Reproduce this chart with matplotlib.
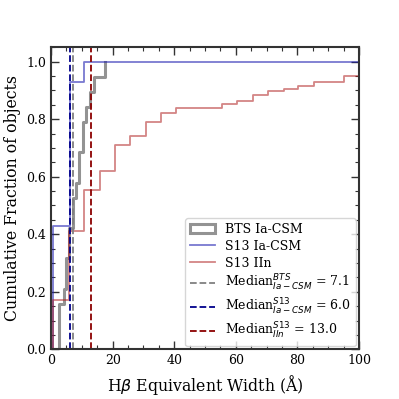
import matplotlib
matplotlib.use("Agg")
import matplotlib.pyplot as plt
from matplotlib.patches import Patch
from matplotlib.lines import Line2D
from matplotlib.ticker import MultipleLocator

plt.rcParams['font.family'] = 'DejaVu Serif'
plt.rcParams['mathtext.fontset'] = 'dejavusans'

# BTS Ia-CSM cumulative step (x edges, cumulative fraction)
bts_x = [0, 2.7, 4.3, 5.0, 5.7, 7.1, 8.2, 9.0, 10.4, 11.3, 12.5, 14.0, 17.4]
bts_y = [0.0, 3/19, 4/19, 6/19, 8/19, 10/19, 11/19, 13/19, 15/19, 16/19, 17/19, 18/19, 1.0]

# S13 Ia-CSM
s13ia_x = [0.5, 6.0, 10.8, 100]
s13ia_y = [0.43, 0.93, 1.0, 0.997]

# S13 IIn
s13iin_x = [0.5, 5.7, 10.8, 15.8, 20.6, 25.5, 30.9, 35.8, 40.5, 55.5, 60.5, 65.5,
            70.4, 75.5, 80.3, 85.4, 95.1, 100]
s13iin_y = [0.17, 0.41, 0.555, 0.62, 0.709, 0.742, 0.789, 0.821, 0.839, 0.853, 0.862,
            0.883, 0.897, 0.906, 0.916, 0.928, 0.951, 0.951]

medians = {'bts': 7.1, 's13ia': 6.0, 's13iin': 13.0}

fig = plt.figure(figsize=(3.99, 3.99), dpi=100)
ax = fig.add_axes([0.128, 0.1246, 0.772, 0.757])

ax.step([0] + bts_x, [0] + bts_y, where='post', color='gray', lw=2.2, alpha=0.85)
ax.step([0] + s13ia_x, [0] + s13ia_y, where='post', color='#2020b0', lw=1.3, alpha=0.6)
ax.step([0] + s13iin_x, [0] + s13iin_y, where='post', color='#b02020', lw=1.3, alpha=0.55)

ax.axvline(medians['bts'], color='gray', ls='--', lw=1.3)
ax.axvline(medians['s13ia'], color='darkblue', ls='--', lw=1.3)
ax.axvline(medians['s13iin'], color='darkred', ls='--', lw=1.3)

ax.set_xlim(0, 100)
ax.set_ylim(0, 1.05)
ax.xaxis.set_major_locator(MultipleLocator(20))
ax.xaxis.set_minor_locator(MultipleLocator(5))
ax.yaxis.set_major_locator(MultipleLocator(0.2))
ax.yaxis.set_minor_locator(MultipleLocator(0.05))
ax.tick_params(which='both', direction='in', top=True, right=True, labelsize=9, colors='#333333', labelcolor='black')
ax.tick_params(which='major', length=6, width=1)
ax.tick_params(which='minor', length=3, width=0.8)
for s in ax.spines.values():
    s.set_linewidth(1.5)
    s.set_color('#333333')

ax.set_xlabel(r'H$\beta$ Equivalent Width (Å)', fontsize=11.3)
ax.set_ylabel('Cumulative Fraction of objects', fontsize=11.3)

handles = [
    Patch(facecolor='none', edgecolor='gray', lw=2.2, alpha=0.85),
    Line2D([], [], color='#2020b0', lw=1.3, alpha=0.6),
    Line2D([], [], color='#b02020', lw=1.3, alpha=0.55),
    Line2D([], [], color='gray', ls='--', lw=1.3),
    Line2D([], [], color='darkblue', ls='--', lw=1.3),
    Line2D([], [], color='darkred', ls='--', lw=1.3),
]
labels = [
    'BTS Ia-CSM', 'S13 Ia-CSM', 'S13 IIn',
    r'Median$^{BTS}_{Ia-CSM}$ = %.1f' % medians['bts'],
    r'Median$^{S13}_{Ia-CSM}$ = %.1f' % medians['s13ia'],
    r'Median$^{S13}_{IIn}$ = %.1f' % medians['s13iin'],
]
ax.legend(handles, labels, loc='lower right', fontsize=9, framealpha=0.8,
          handlelength=2.0, borderpad=0.4, labelspacing=0.3, borderaxespad=0.25)

fig.savefig('out.png', dpi=100)
